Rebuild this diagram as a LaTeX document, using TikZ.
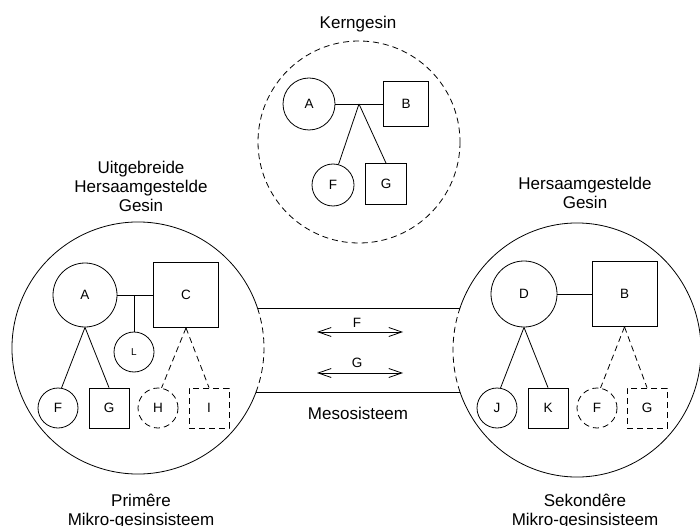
\documentclass[tikz,border=0pt]{standalone}
\usepackage{fontspec}
\setmainfont{Liberation Sans}
\usetikzlibrary{arrows.meta}
\begin{document}
\begin{tikzpicture}[x=1pt,y=-1pt,line width=0.8pt,
  lbl/.style={font=\fontsize{13.5}{15}\selectfont},
  ttl/.style={font=\fontsize{17}{19}\selectfont,align=center,inner sep=0pt},
  fem/.style={draw,circle,inner sep=0pt,lbl},
  mal/.style={draw,rectangle,inner sep=0pt,lbl},
  dsh/.style={dash pattern=on 6pt off 4pt},
  twoway/.style={{Straight Barb[length=13pt,width=9pt]}-{Straight Barb[length=13pt,width=9pt]}}
]
\useasboundingbox (0,0) rectangle (700,526);

% ---------- nuclear family (top) ----------
\draw[dsh] (359,142) circle[radius=101];
\node[anchor=base,font=\fontsize{17}{19}\selectfont] (tTitle) at (358,29) {Kerngesin};
\node[fem,minimum size=52pt] (tA) at (309,104) {A};
\node[mal,minimum size=45pt] (tB) at (406,104) {B};
\node[fem,minimum size=42pt] (tF) at (333,185) {F};
\node[mal,minimum size=41pt] (tG) at (386,184) {G};
\coordinate (tJ) at (359,104);
\draw (tA.east) -- (tB.west);
\draw (tJ) -- (tF.75);
\draw (tJ) -- (tG.north);

% ---------- left big circle ----------
\draw (138,348) ++(20.45:126) arc[start angle=20.45,end angle=341.5,radius=126];
\draw[dsh] (138,348) ++(-18.5:126) arc[start angle=-18.5,end angle=20.45,radius=126];
\coordinate (cL1) at (257.5,308);
\coordinate (cL2) at (256.1,392);
\node[ttl,anchor=north] (lTitle) at (141,161) {Uitgebreide\\Hersaamgestelde\\Gesin};
\node[ttl,anchor=north] (lSub) at (141,494) {Primêre\\Mikro-gesinsisteem};

\node[fem,minimum size=64pt] (lA) at (85,295) {A};
\node[mal,minimum size=65pt] (lC) at (186,295) {C};
\node[fem,minimum size=40pt,font=\fontsize{10}{12}\selectfont] (lL) at (134,352) {L};
\node[fem,minimum size=40pt] (lF) at (58,408) {F};
\node[mal,minimum size=40pt] (lG) at (109,408) {G};
\node[fem,dsh,minimum size=40pt] (lH) at (158,408) {H};
\node[mal,dsh,minimum size=40pt] (lI) at (209,408) {I};
\coordinate (lJ) at (134,295);
\draw (lA.east) -- (lC.west);
\draw (lJ) -- (lL.north);
\draw (lA.south) -- (lF.80);
\draw (lA.south) -- (lG.north);
\draw[dsh] (lC.south) -- (lH.80);
\draw[dsh] (lC.south) -- (lI.north);

% ---------- right big circle ----------
\draw (577,350) ++(-160.7:124 and 127) arc[start angle=-160.7,end angle=160.7,x radius=124,y radius=127];
\draw[dsh] (577,350) ++(160.7:124 and 127) arc[start angle=160.7,end angle=199.3,x radius=124,y radius=127];
\coordinate (cR1) at (460,308);
\coordinate (cR2) at (460,392);
\node[ttl,anchor=north] (rTitle) at (585,177) {Hersaamgestelde\\Gesin};
\node[ttl,anchor=north] (rSub) at (585,494) {Sekondêre\\Mikro-gesinsisteem};

\node[fem,minimum size=66pt] (rD) at (524,294) {D};
\node[mal,minimum size=65pt] (rB) at (624.5,294) {B};
\node[fem,minimum size=40pt] (rJ) at (497,408) {J};
\node[mal,minimum size=40pt] (rK) at (548,408) {K};
\node[fem,dsh,minimum size=40pt] (rF) at (597,408) {F};
\node[mal,dsh,minimum size=40pt] (rG) at (647,408) {G};
\draw (rD.east) -- (rB.west);
\draw (rD.south) -- (rJ.80);
\draw (rD.south) -- (rK.north);
\draw[dsh] (rB.south) -- (rF.80);
\draw[dsh] (rB.south) -- (rG.north);

% ---------- mesosystem ----------
\draw (cL1) -- (cR1);
\draw (cL2) -- (cR2);
\coordinate (aF1) at (317,332);
\coordinate (aF2) at (403,332);
\coordinate (aG1) at (317,373);
\coordinate (aG2) at (403,373);
\draw[twoway] (aF1) -- (aF2);
\draw[twoway] (aG1) -- (aG2);
\node[lbl,anchor=base] (fLbl) at (357,327) {F};
\node[lbl,anchor=base] (gLbl) at (357,367.5) {G};
\node[anchor=base,font=\fontsize{17}{19}\selectfont] (meso) at (358,419.5) {Mesosisteem};
\end{tikzpicture}
\end{document}
